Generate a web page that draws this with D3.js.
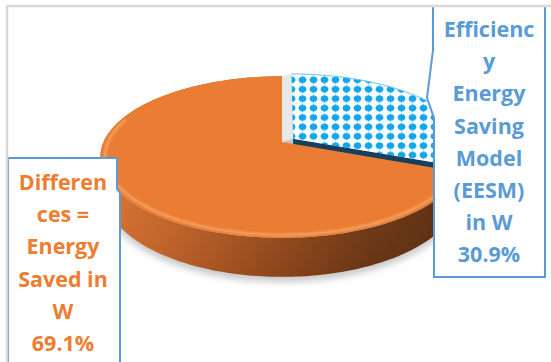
<!DOCTYPE html>
<html>
<head>
<meta charset="utf-8">
<script src="https://cdn.jsdelivr.net/npm/d3@7"></script>
<style>
  body { margin: 0; background: #fff; }
  svg { display: block; }
  text { font-family: "Open Sans", sans-serif; font-weight: 700; }
</style>
</head>
<body>
<div id="chart"></div>
<script>
// slice data (clockwise from 12 o'clock)
const categories = ["Efficiency Energy Saving Model (EESM) in W", "Differences = Energy Saved in W"];
const values = [30.9, 69.1];
const pctLabels = ["30.9%", "69.1%"];
const labelLines = [
  ["Efficienc", "y", "Energy", "Saving", "Model", "(EESM)", "in W"],
  ["Differen", "ces =", "Energy", "Saved in", "W"]
];
const explode = [0.076, 0];

const width = 551, height = 362;

const svg = d3.select("#chart")
  .append("svg")
  .attr("width", width)
  .attr("height", height);

const defs = svg.append("defs");

// dotted pattern for the EESM slice
const pat = defs.append("pattern")
  .attr("id", "dots")
  .attr("patternUnits", "userSpaceOnUse")
  .attr("width", 11)
  .attr("height", 9.4);
pat.append("rect").attr("width", 11).attr("height", 9.4).attr("fill", "#fbfdff");
pat.append("ellipse").attr("cx", 5.5).attr("cy", 4.7).attr("rx", 3.7).attr("ry", 3.2).attr("fill", "#14a6ea");
pat.append("path").attr("d", "M5.5,0.2 L6.8,4.7 L5.5,9.2 L4.2,4.7Z").attr("fill", "#14a6ea");
pat.append("path").attr("d", "M0.5,4.7 L5.5,3.5 L10.5,4.7 L5.5,5.9Z").attr("fill", "#14a6ea");

const sideGrad = defs.append("linearGradient")
  .attr("id", "sideGrad")
  .attr("gradientUnits", "userSpaceOnUse")
  .attr("x1", 100).attr("x2", 460).attr("y1", 0).attr("y2", 0);
[[0, "#dc742f"], [0.25, "#bd6026"], [0.5, "#964a1b"], [0.75, "#6e3714"], [1, "#5a2c0f"]]
  .forEach(([o, c]) => sideGrad.append("stop").attr("offset", o).attr("stop-color", c));

const sideShade = defs.append("linearGradient")
  .attr("id", "sideShade")
  .attr("x1", 0).attr("x2", 0).attr("y1", 0).attr("y2", 1);
sideShade.append("stop").attr("offset", 0).attr("stop-color", "#fff").attr("stop-opacity", 0.18);
sideShade.append("stop").attr("offset", 0.45).attr("stop-color", "#fff").attr("stop-opacity", 0);
sideShade.append("stop").attr("offset", 1).attr("stop-color", "#000").attr("stop-opacity", 0.08);

defs.append("filter").attr("id", "blur4")
  .attr("x", "-20%").attr("y", "-20%").attr("width", "140%").attr("height", "140%")
  .append("feGaussianBlur").attr("stdDeviation", 3.5);
defs.append("filter").attr("id", "blur1")
  .append("feGaussianBlur").attr("stdDeviation", 1.3);

// perspective projection of the pie disk
const cx = 282, cy = 142, F = 860, D = 4.82, H = 0.214;
const tilt = Math.asin(0.437), sinA = Math.sin(tilt), cosA = Math.cos(tilt);

function proj(theta, r, h, e, mid) {
  const u = r * Math.sin(theta) + e * Math.sin(mid);
  const v = r * Math.cos(theta) + e * Math.cos(mid);
  const yc = v * sinA + h * cosA;
  const zc = D + v * cosA - h * sinA;
  return [cx + F * u / zc, cy - F * yc / zc];
}

function rim(a0, a1, r, h, e, mid) {
  const n = Math.max(2, Math.ceil((a1 - a0) / 0.02));
  return d3.range(n + 1).map(i => proj(a0 + (a1 - a0) * i / n, r, h, e, mid));
}

const line = d3.line().curve(d3.curveLinear);

const arcs = d3.pie().sort(null).value(d => d)(values).map((a, i) => ({
  ...a,
  e: explode[i],
  mid: (a.startAngle + a.endAngle) / 2
}));
const blue = arcs[0], orange = arcs[1];

// shadow below the pie
svg.append("path")
  .attr("d", line(rim(0, 2 * Math.PI, 1.0, -H, 0, 0)) + "Z")
  .attr("transform", "translate(0,5)")
  .attr("fill", "#000")
  .attr("opacity", 0.22)
  .attr("filter", "url(#blur4)");

function sidePath(a, a0, a1) {
  const top = rim(a0, a1, 1, 0, a.e, a.mid);
  const bot = rim(a0, a1, 1, -H, a.e, a.mid).reverse();
  return line(top.concat(bot)) + "Z";
}
function radialPath(a, ang) {
  return line([
    proj(0, 0, 0, a.e, a.mid), proj(ang, 1, 0, a.e, a.mid),
    proj(ang, 1, -H, a.e, a.mid), proj(0, 0, -H, a.e, a.mid)
  ]) + "Z";
}
function topPath(a) {
  return line([proj(0, 0, 0, a.e, a.mid)].concat(rim(a.startAngle, a.endAngle, 1, 0, a.e, a.mid))) + "Z";
}

// EESM slice (exploded)
svg.append("path").attr("d", sidePath(blue, Math.PI / 2, blue.endAngle)).attr("fill", "#1b4a6b");
svg.append("path").attr("d", radialPath(blue, blue.endAngle)).attr("fill", "#17405f");

// gap between slices
svg.append("path")
  .attr("d", line([
    proj(0, 0, 0, 0, 0), proj(0, 1, 0, 0, 0),
    proj(0, 1, 0, blue.e, blue.mid), proj(0, 0, 0, blue.e, blue.mid)
  ]) + "Z")
  .attr("fill", "#e8e8e8");

svg.append("path")
  .attr("d", topPath(blue))
  .attr("fill", "url(#dots)");
svg.append("path")
  .attr("d", line(rim(blue.startAngle, blue.endAngle, 1, 0, blue.e, blue.mid)))
  .attr("fill", "none")
  .attr("stroke", "#6cc3ee")
  .attr("stroke-width", 1);

// Differences slice
const oSide = sidePath(orange, orange.startAngle, orange.endAngle);
svg.append("path").attr("d", oSide).attr("fill", "url(#sideGrad)");
svg.append("path").attr("d", oSide).attr("fill", "url(#sideShade)");

const oTop = topPath(orange);
defs.append("clipPath").attr("id", "oTopClip").append("path").attr("d", oTop);
svg.append("path").attr("d", oTop).attr("fill", "#ea7d33");

// bevel highlight near the front rim
svg.append("path")
  .attr("clip-path", "url(#oTopClip)")
  .attr("d", line(rim(Math.PI * 0.62, Math.PI * 1.6, 0.975, 0, 0, 0)))
  .attr("fill", "none")
  .attr("stroke", "#f7a468")
  .attr("stroke-width", 2.5)
  .attr("filter", "url(#blur1)");
svg.append("path")
  .attr("clip-path", "url(#oTopClip)")
  .attr("d", line(rim(Math.PI * 0.55, Math.PI * 1.7, 1.0, 0, 0, 0)))
  .attr("fill", "none")
  .attr("stroke", "#c8652a")
  .attr("stroke-opacity", 0.3)
  .attr("stroke-width", 1.5)
  .attr("filter", "url(#blur1)");

// data label callouts
const boxes = [
  { path: "M433,6 L545,6 L545,277 L434,277 L434,118 L427,98 L433,50 Z", cx: 489, y0: 37, color: "#5b9bd5" },
  { path: "M8,158 L117,158 L117,189 L120,193 L120,380 L8,380 Z", cx: 63, y0: 190, color: "#ed7d31" }
];

boxes.forEach((b, i) => {
  svg.append("path")
    .attr("d", b.path)
    .attr("fill", "#fff")
    .attr("stroke", "#5b9bd5")
    .attr("stroke-width", 2);
  const lines = labelLines[i].concat([pctLabels[i]]);
  svg.append("g")
    .selectAll("text")
    .data(lines)
    .enter()
    .append("text")
    .attr("x", b.cx)
    .attr("y", (d, k) => b.y0 + k * 32.2)
    .attr("text-anchor", "middle")
    .attr("font-size", "21.5px")
    .attr("fill", b.color)
    .text(d => d);
});

// chart area border
svg.append("rect")
  .attr("x", 7).attr("y", 6)
  .attr("width", 600).attr("height", 400)
  .attr("fill", "none")
  .attr("stroke", "#d9d9d9")
  .attr("stroke-width", 2.5);
</script>
</body>
</html>
